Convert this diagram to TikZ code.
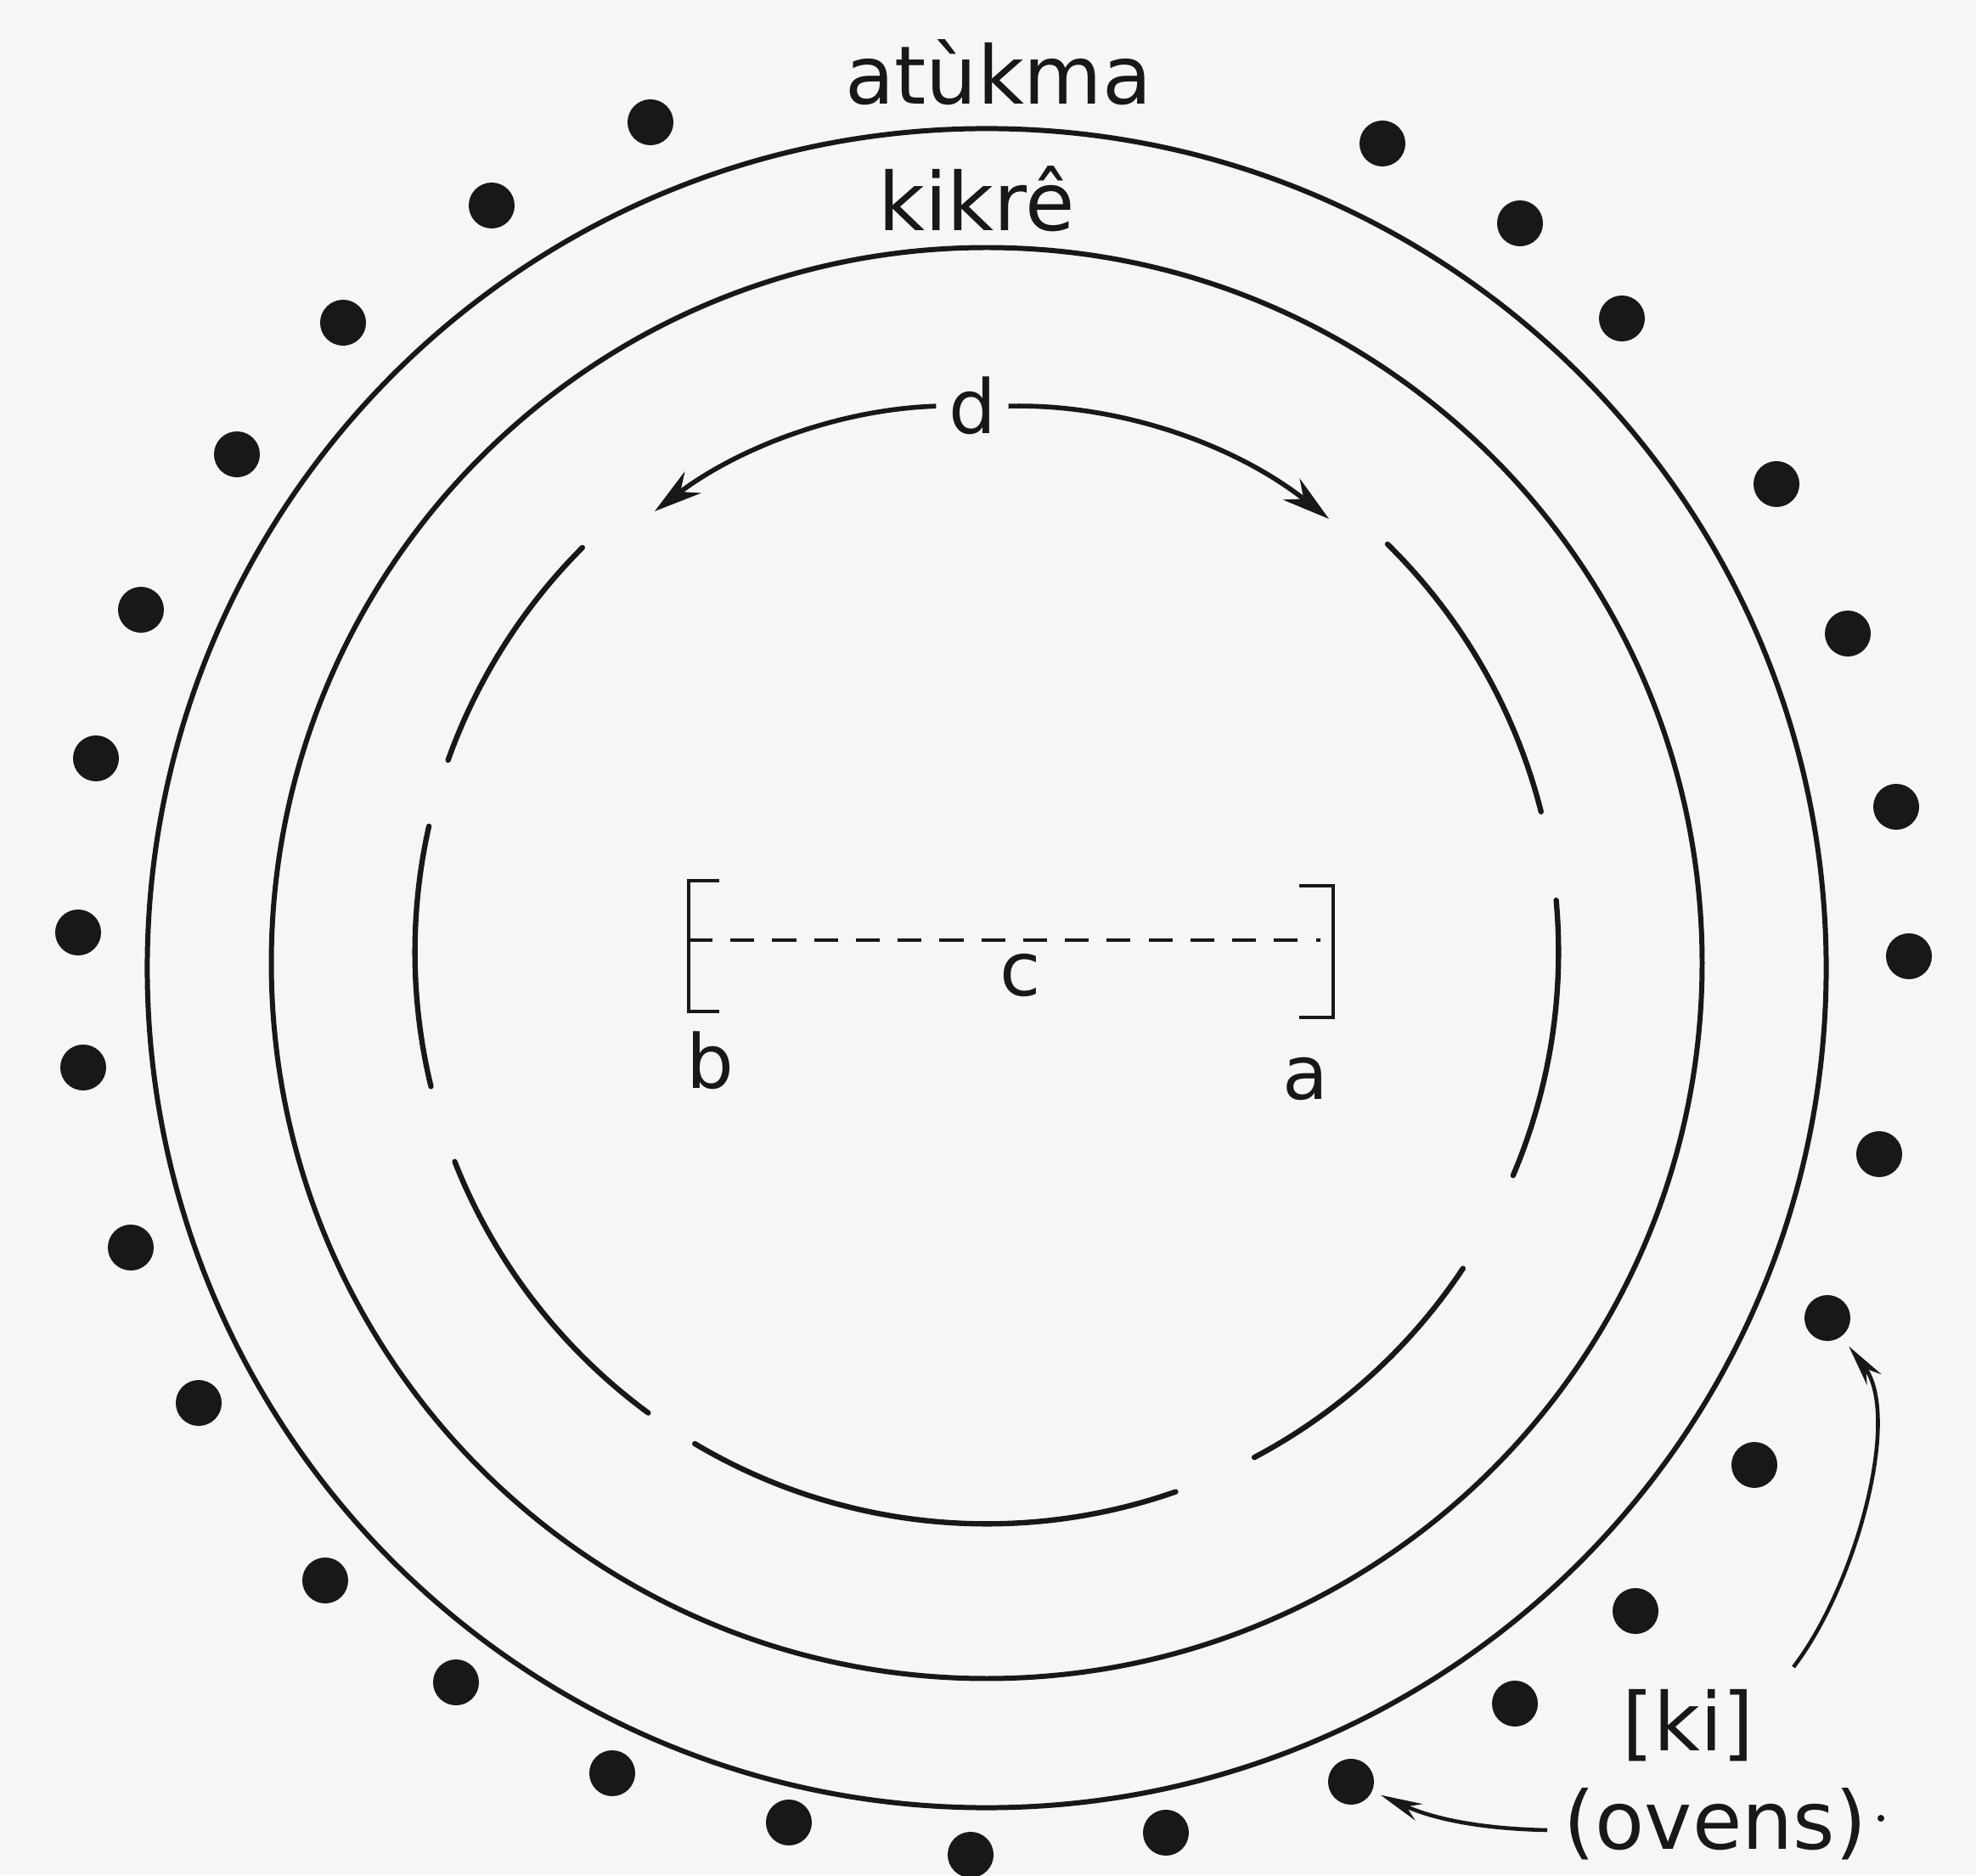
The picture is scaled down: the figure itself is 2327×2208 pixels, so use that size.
\documentclass[tikz,border=0pt]{standalone}
\usepackage{fontspec}
\setmainfont{DejaVu Sans}
\usetikzlibrary{arrows.meta}
\definecolor{paper}{RGB}{246,246,246}
\definecolor{ink}{RGB}{24,24,24}
\begin{document}
\begin{tikzpicture}[x=0.01cm,y=0.01cm,
  ring/.style={draw=ink,line width=1.7pt},
  gatearc/.style={draw=ink,line width=1.8pt,line cap=round},
  oven/.style={circle,fill=ink,inner sep=0pt,minimum size=0.54cm},
  lbl/.style={font=\fontsize{27}{30}\selectfont,text=ink,inner ysep=0pt,inner xsep=2pt,anchor=base},
  small/.style={font=\fontsize{25}{28}\selectfont,text=ink,inner ysep=0pt,inner xsep=3pt,anchor=base},
  darrow/.style={draw=ink,line width=1.6pt,-{Stealth[length=16pt,width=9pt]}},
  kiarrow/.style={draw=ink,line width=1.3pt,-{Stealth[length=14pt,width=6pt]}},
  bracket/.style={draw=ink,line width=1.4pt},
  dashline/.style={draw=ink,line width=1.4pt,dash pattern=on 8pt off 6pt}
]
\fill[paper] (0,0) rectangle (2327,2208);
\useasboundingbox (0,0) rectangle (2327,2208);

% centres
\coordinate (OC) at (1162,1068);
\coordinate (SC) at (1162,1074);
\coordinate (G) at (1162,1087);

% rings
\draw[ring] (OC) circle[radius=9.88cm];
\draw[ring] (SC) circle[radius=8.42cm];

% broken inner ring
\draw[gatearc] ([shift={(135:6.73cm)}]G) arc[start angle=135,end angle=160.4,radius=6.73cm];
\draw[gatearc] ([shift={(167.3:6.73cm)}]G) arc[start angle=167.3,end angle=193.6,radius=6.73cm];
\draw[gatearc] ([shift={(201.5:6.73cm)}]G) arc[start angle=201.5,end angle=233.7,radius=6.73cm];
\draw[gatearc] ([shift={(239.3:6.73cm)}]G) arc[start angle=239.3,end angle=289.3,radius=6.73cm];
\draw[gatearc] ([shift={(297.9:6.73cm)}]G) arc[start angle=297.9,end angle=326.4,radius=6.73cm];
\draw[gatearc] ([shift={(337:6.73cm)}]G) arc[start angle=337,end angle=365.2,radius=6.73cm];
\draw[gatearc] ([shift={(14.2:6.73cm)}]G) arc[start angle=14.2,end angle=45.5,radius=6.73cm];

% labels
\node[lbl] (atukma) at (1176,2085) {atùkma};
\node[lbl] (kikre) at (1150,1936) {kikrê};
\node[small,inner xsep=4pt] (d) at (1145,1697) {d};
\node[small] (c) at (1202,1035) {c};
\node[small] (b) at (836,926) {b};
\node[small] (a) at (1537,913) {a};
\node[lbl] (ki) at (1988,147) {[ki]};
\node[lbl] (ovens) at (2020,31) {(ovens)};
\node[circle,fill=ink,inner sep=0pt,minimum size=0.08cm] (speck) at (2215,67) {};

% d arrows
\coordinate (dL) at (771,1606);
\coordinate (dR) at (1565,1597);
\draw[darrow] (d.west) .. controls (988,1726) and (870,1681) .. (dL);
\draw[darrow] (d.east) .. controls (1319,1733) and (1455,1684) .. (dR);

% brackets and dashed line
\coordinate (bL) at (811,1101);
\coordinate (bR) at (1570,1101);
\draw[bracket] (847,1171) -- (811,1171) -- (811,1017) -- (847,1017);
\draw[bracket] (1530,1165) -- (1570,1165) -- (1570,1010) -- (1530,1010);
\draw[dashline] (bL) -- ([xshift=-0.15cm]bR);

% ovens
\foreach \i/\x/\y in {1/766/2064,2/579/1966,3/404/1828,4/279/1673,5/166/1490,
  6/113/1315,7/92/1110,8/98/951,9/154/739,10/234/556,11/383/347,12/537/227,
  13/721/120,14/929/62,15/1143/24,16/1373/50,17/1591/110,18/1784/202,
  19/1926/311,20/2066/483,21/2152/656,22/2213/849,23/2248/1082,24/2233/1258,
  25/2176/1462,26/2092/1638,27/1910/1833,28/1790/1945,29/1628/2039}
  \node[oven] (o\i) at (\x,\y) {};

% ki arrows
\coordinate (kiS) at (2112,245);
\coordinate (ovS) at (1822,53);
\draw[kiarrow,shorten >=4pt] (kiS) .. controls (2185,340) and (2240,540) .. (o21);
\draw[kiarrow,shorten >=3pt] (ovS) .. controls (1730,55) and (1680,70) .. (o17);
\end{tikzpicture}
\end{document}
